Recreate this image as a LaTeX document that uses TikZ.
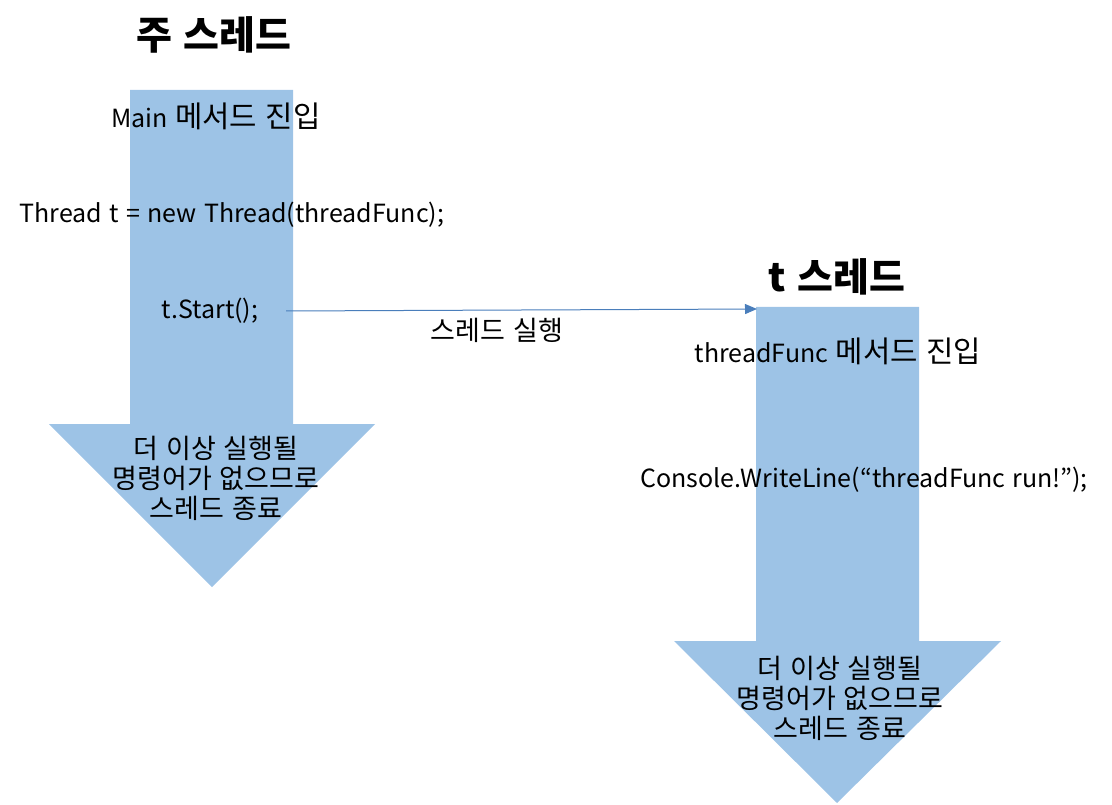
\documentclass[tikz,border=0pt]{standalone}
\usepackage{fontspec}
\setmainfont{Noto Sans CJK KR}[WordSpace=1.3]
\newfontfamily\hg{Noto Sans CJK KR}[Scale=1.08,WordSpace=1.3]
\newfontfamily\hgb{Noto Sans CJK KR}[Scale=1.19,WordSpace=1.3]
\usetikzlibrary{arrows.meta}
\definecolor{shaftblue}{HTML}{9DC3E6}
\definecolor{linkblue}{HTML}{4A7EBB}
\tikzset{
  txt/.style={inner sep=0pt, font=\fontsize{25}{31}\selectfont, align=center},
  hgtxt/.style={inner sep=0pt, font=\fontsize{25}{30}\selectfont\hg, align=center},
  ttl/.style={inner sep=0pt, font=\fontsize{39}{44}\selectfont\bfseries},
  flow/.style={fill=shaftblue, draw=none},
  link/.style={draw=linkblue, line width=1pt, -{Triangle[length=12pt,width=10pt]}}
}
\begin{document}
\begin{tikzpicture}[x=1pt,y=-1pt]
\useasboundingbox (0,0) rectangle (1112,805);
% main thread arrow
\path[flow] (130,90) -- (293,90) -- (293,424) -- (375,424) -- (212,587) -- (49,424) -- (130,424) -- cycle;
% t thread arrow
\path[flow] (756,307) -- (919,307) -- (919,641) -- (1001,641) -- (837,803) -- (674,641) -- (756,641) -- cycle;

\node[ttl] (t1) at (214,35) {주 스레드};
\node[txt] (m1) at (216,116) {Main {\hgb 메서드 진입}};
\node[txt] (m2) at (232,215) {Thread t = new Thread(threadFunc);};
\node[txt] (m3) at (210,311) {t.Start();};
\node[hgtxt] (m4) at (216,478) {더 이상 실행될\\명령어가 없으므로\\스레드 종료};

\node[ttl] (t2) at (837,277) {t 스레드};
\node[txt] (r1) at (838,351) {threadFunc {\hgb 메서드 진입}};
\node[txt] (r2) at (864,480) {Console.WriteLine(“threadFunc run!”);};
\node[hgtxt] (r4) at (840,698) {더 이상 실행될\\명령어가 없으므로\\스레드 종료};

\node[hgtxt] (lbl) at (497,330) {스레드 실행};
\coordinate (s) at (286,311);
\coordinate (e) at (757,309);
\draw[link] (s) -- (e);
\end{tikzpicture}
\end{document}
